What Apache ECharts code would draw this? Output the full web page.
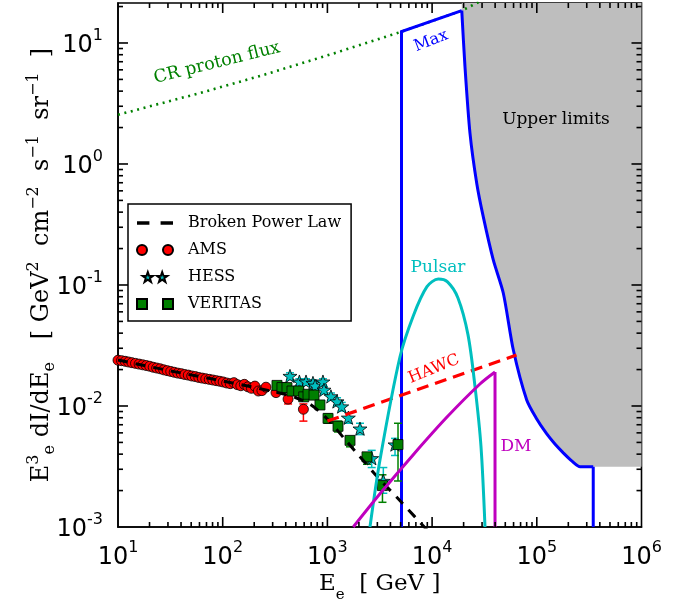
<!DOCTYPE html>
<html><head><meta charset="utf-8">
<script src="https://cdn.jsdelivr.net/npm/echarts@6/dist/echarts.min.js"></script>
<style>html,body{margin:0;padding:0;background:#fff}#c{width:681px;height:609px}</style>
</head><body><div id="c"></div>
<script>
// ---------- data ----------
const xMin = 10, xMax = 1e6, yMin = 1e-3, yMax = 21.4;
const xMajor = [10, 100, 1000, 10000, 100000, 1000000];
const xMinor = [20,30,40,50,60,70,80,90,200,300,400,500,600,700,800,900,2000,3000,4000,5000,6000,7000,8000,9000,
  20000,30000,40000,50000,60000,70000,80000,90000,200000,300000,400000,500000,600000,700000,800000,900000];
const yMajor = [0.001, 0.01, 0.1, 1, 10];
const yMinor = [0.002,0.003,0.004,0.005,0.006,0.007,0.008,0.009,0.02,0.03,0.04,0.05,0.06,0.07,0.08,0.09,
  0.2,0.3,0.4,0.5,0.6,0.7,0.8,0.9,2,3,4,5,6,7,8,9,20];

// CR proton flux (dotted green)
const crE = [10, 60, 230, 1100, 5100, 19200, 30000];
const crV = [2.55, 3.85, 5.35, 8.1, 12.4, 18.5, 22.5];

// Max / upper limit envelope
const maxLeftE = 5100, maxTopV = 12.4;
const upperE = [19200, 20600, 23000, 26700, 30800, 38400, 47900, 59700, 80100, 98200, 124000, 149000, 179000, 217000, 259000, 346000];
const upperV = [18.5, 6.4, 1.8, 0.69, 0.367, 0.161, 0.0855, 0.029, 0.0112, 0.0080, 0.0059, 0.00485, 0.0041, 0.0035, 0.00315, 0.00315];
const upperTopE = 29000;

// Pulsar
const pulsarE = [2550, 3177, 4930, 6607, 8933, 11460, 14030, 17660, 22030, 25700, 29310, 32010];
const pulsarV = [0.001, 0.00358, 0.0254, 0.0555, 0.0968, 0.112, 0.106, 0.0781, 0.0387, 0.01445, 0.00461, 0.001];

// DM
const dmE = [1767, 3177, 6577, 13870, 28640, 39900];
const dmV = [0.001, 0.00188, 0.00394, 0.0081, 0.0152, 0.0191];

// HAWC
const hawcE = [1000, 64000];
const hawcV = [0.0075, 0.0264];

// Broken power law
const bplE = [10, 30, 100, 300, 500, 700, 1000, 1500, 2000, 3000, 5000, 10000];
const bplV = [0.0240, 0.0197, 0.0161, 0.0132, 0.0117, 0.0102, 0.0078, 0.0052, 0.0039, 0.0026, 0.00163, 0.00085];

// AMS
const amsE = [10,10.8,11.7,12.6,13.6,14.7,15.9,17.2,18.6,20.1,21.7,23.4,25.3,27.3,29.5,31.9,34.4,37.2,40.2,43.4,46.9,50.6,54.7,59.1,63.8,68.9,74.4,80.4,86.8,93.8,101,109,118,128,138,149,161,174,188,203,219,237,259,323,421,590];
const amsV = [0.0239,0.0237,0.0234,0.0231,0.0228,0.0225,0.0222,0.0219,0.0216,0.0213,0.0209,0.0206,0.0203,0.0199,0.0196,0.0193,0.0190,0.0187,0.0185,0.0182,0.0180,0.0177,0.0175,0.0172,0.0170,0.0168,0.0166,0.0164,0.0162,0.0160,0.0158,0.0155,0.0153,0.0156,0.0150,0.0147,0.0151,0.0144,0.0140,0.0146,0.0133,0.0134,0.0143,0.0129,0.0114,0.0094];
const amsErrE = [259, 421, 590];
const amsErrLo = [0.0136, 0.0104, 0.0075];
const amsErrHi = [0.0150, 0.0124, 0.0104];

// HESS
const hessE = [439, 540, 625, 728, 763, 907, 928, 1081, 1236, 1371, 1585, 2048, 2649, 3421, 4425];
const hessV = [0.0177, 0.0159, 0.0159, 0.0155, 0.0147, 0.0159, 0.0136, 0.0120, 0.0109, 0.0099, 0.0080, 0.0065, 0.0037, 0.0024, 0.0048];
const hessLo = [0.0166, 0.0150, 0.0150, 0.0146, 0.0138, 0.0150, 0.0127, 0.0112, 0.0101, 0.0091, 0.0072, 0.0058, 0.0031, 0.0019, 0.0039];
const hessHi = [0.0188, 0.0168, 0.0168, 0.0164, 0.0156, 0.0168, 0.0145, 0.0128, 0.0117, 0.0107, 0.0088, 0.0072, 0.0043, 0.0031, 0.0054];

// VERITAS
const verE = [330, 368, 411, 459, 532, 594, 653, 745, 849, 1014, 1263, 1644, 2388, 3357, 4725];
const verV = [0.0148, 0.0142, 0.0142, 0.0133, 0.0133, 0.0119, 0.0125, 0.0123, 0.0102, 0.0079, 0.0068, 0.0052, 0.0038, 0.0022, 0.0048];
const verLo = [0.0140, 0.0134, 0.0134, 0.0125, 0.0125, 0.0111, 0.0117, 0.0115, 0.0094, 0.0072, 0.0061, 0.0046, 0.0033, 0.0016, 0.0024];
const verHi = [0.0156, 0.0150, 0.0150, 0.0141, 0.0141, 0.0127, 0.0133, 0.0131, 0.0110, 0.0086, 0.0075, 0.0056, 0.0041, 0.0027, 0.0072];

// ---------- chart ----------
const C_BLUE = '#0000ff', C_CYAN = '#00bfbf', C_MAG = '#bf00bf', C_RED = '#ff0000', C_GREEN = '#008000', C_GREY = '#bebebe';
const SERIF = '"DejaVu Serif", serif';
const SANS = '"DejaVu Sans", sans-serif';
const zip = (a, b) => a.map((v, i) => [v, b[i]]);
const zip3 = (a, b, c) => a.map((v, i) => [v, b[i], c[i]]);
const STAR = 'path://M0,-10 L2.35,-3.24 L9.51,-3.09 L3.8,1.24 L5.88,8.09 L0,4 L-5.88,8.09 L-3.8,1.24 L-9.51,-3.09 L-2.35,-3.24 Z';
const STAR2 = 'path://M0,-10 L2.35,-3.24 L9.51,-3.09 L3.8,1.24 L5.88,8.09 L0,4 L-5.88,8.09 L-3.8,1.24 L-9.51,-3.09 L-2.35,-3.24 Z M26,-10 L28.35,-3.24 L35.51,-3.09 L29.8,1.24 L31.88,8.09 L26,4 L20.12,8.09 L22.2,1.24 L16.49,-3.09 L23.65,-3.24 Z';
const CIRC2 = 'path://M-5,0 a5,5 0 1,0 10,0 a5,5 0 1,0 -10,0 Z M21,0 a5,5 0 1,0 10,0 a5,5 0 1,0 -10,0 Z';
const SQ2 = 'path://M-5,-5 L5,-5 L5,5 L-5,5 Z M21,-5 L31,-5 L31,5 L21,5 Z';
const DASH2 = 'path://M0,0 L10,0 L10,3 L0,3 Z M19,0 L29,0 L29,3 L19,3 Z';

const GRID = { left: 118, right: 39.5, top: 3, bottom: 82 };
const W = 681, H = 609;

const lineBlack = { color: '#000', width: 1.6 };
const lg = Math.log10;
const powLabel = v => {
  const e = lg(v);
  if (Math.abs(e - Math.round(e)) > 1e-6) return '';
  return '{b|10}{s|' + Math.round(e) + '}';
};

const xMain = {
  type: 'log', logBase: 10, min: xMin, max: xMax, position: 'bottom',
  axisLine: { show: true, onZero: false, lineStyle: lineBlack },
  axisTick: { show: false }, splitLine: { show: false }, minorTick: { show: false },
  axisLabel: {
    show: true, margin: 13, color: '#000', formatter: powLabel,
    rich: { b: { fontFamily: SANS, fontSize: 24, lineHeight: 30, color: '#000', verticalAlign: 'bottom' },
            s: { fontFamily: SANS, fontSize: 16, lineHeight: 30, color: '#000', verticalAlign: 'top' } }
  },
  name: '{m|E}{sub|e}{m|  [ GeV ]}', nameLocation: 'middle', nameGap: 46, nameMoveOverlap: false,
  nameTextStyle: { fontFamily: SERIF, fontSize: 23, color: '#000',
    rich: { m: { fontFamily: SERIF, fontSize: 23, lineHeight: 30, color: '#000', verticalAlign: 'top' },
            sub: { fontFamily: SERIF, fontSize: 15, lineHeight: 15, color: '#000', verticalAlign: 'bottom' } } }
};
const yMain = {
  type: 'log', logBase: 10, min: yMin, max: yMax, position: 'left',
  axisLine: { show: true, onZero: false, lineStyle: lineBlack },
  axisTick: { show: false }, splitLine: { show: false }, minorTick: { show: false },
  axisLabel: {
    show: true, margin: 15, color: '#000', formatter: powLabel,
    rich: { b: { fontFamily: SANS, fontSize: 24, lineHeight: 30, color: '#000', verticalAlign: 'bottom' },
            s: { fontFamily: SANS, fontSize: 16, lineHeight: 30, color: '#000', verticalAlign: 'top' } }
  },
  name: '{m|E}{sup|3}{sub|e}{m| dI/dE}{sub|e}{m|   [ GeV}{sup|2}{m|  cm}{sup|−2}{m|  s}{sup|−1}{m|  sr}{sup|−1}{m|  ]}',
  nameLocation: 'middle', nameRotate: 90, nameGap: 60, nameMoveOverlap: false,
  nameTextStyle: { fontFamily: SERIF, fontSize: 24, color: '#000',
    rich: { m: { fontFamily: SERIF, fontSize: 24, lineHeight: 32, color: '#000' },
            sup: { fontFamily: SERIF, fontSize: 16, lineHeight: 16, color: '#000', verticalAlign: 'top' },
            sub: { fontFamily: SERIF, fontSize: 16, lineHeight: 16, color: '#000', verticalAlign: 'bottom' } } }
};

function errRender(color) {
  return function (params, api) {
    const x = api.value(0), lo = api.value(1), hi = api.value(2);
    const p1 = api.coord([x, hi]), p2 = api.coord([x, lo]);
    const w = 4;
    const st = { stroke: color, lineWidth: 1.5 };
    return { type: 'group', children: [
      { type: 'line', shape: { x1: p1[0], y1: p1[1], x2: p2[0], y2: p2[1] }, style: st },
      { type: 'line', shape: { x1: p1[0] - w, y1: p1[1], x2: p1[0] + w, y2: p1[1] }, style: st },
      { type: 'line', shape: { x1: p2[0] - w, y1: p2[1], x2: p2[0] + w, y2: p2[1] }, style: st }
    ] };
  };
}

const lastUE = upperE[upperE.length - 1], lastUV = upperV[upperV.length - 1];
const maxEdgeLeft = [[maxLeftE, yMin], [maxLeftE, maxTopV], [upperE[0], upperV[0]]];
const maxEdgeRight = [[lastUE, lastUV], [lastUE, yMin]];
const upperCurve = zip(upperE, upperV);
const upperArea = upperCurve.concat([[xMax, lastUV]]);

const textGraphics = [
  { type: 'text', x: 217, y: 63, rotation: 14 * Math.PI / 180, z: 100,
    style: { text: 'CR proton flux', fill: C_GREEN, font: '17.5px ' + SERIF, align: 'center', verticalAlign: 'middle' } },
  { type: 'text', x: 431, y: 41, rotation: 21 * Math.PI / 180, z: 100,
    style: { text: 'Max', fill: C_BLUE, font: '16px ' + SERIF, align: 'center', verticalAlign: 'middle' } },
  { type: 'text', x: 556, y: 120, z: 100,
    style: { text: 'Upper limits', fill: '#000', font: '17px ' + SERIF, align: 'center', verticalAlign: 'middle' } },
  { type: 'text', x: 438, y: 268, z: 100,
    style: { text: 'Pulsar', fill: C_CYAN, font: '17px ' + SERIF, align: 'center', verticalAlign: 'middle' } },
  { type: 'text', x: 434, y: 369, rotation: 22 * Math.PI / 180, z: 100,
    style: { text: 'HAWC', fill: C_RED, font: '16px ' + SERIF, align: 'center', verticalAlign: 'middle' } },
  { type: 'text', x: 516, y: 447, z: 100,
    style: { text: 'DM', fill: C_MAG, font: '17px ' + SERIF, align: 'center', verticalAlign: 'middle' } }
];

const option = {
  animation: false,
  backgroundColor: '#fff',
  grid: { left: GRID.left, right: GRID.right, top: GRID.top, bottom: GRID.bottom, containLabel: false, outerBoundsMode: 'none',
          show: true, borderColor: '#000', borderWidth: 1.6, backgroundColor: 'transparent' },
  xAxis: [xMain],
  yAxis: [yMain],
  legend: {
    show: true, orient: 'vertical', left: 128, top: 204,
    padding: [10, 10, 8, 8], itemGap: 9, itemWidth: 36, itemHeight: 10,
    backgroundColor: '#fff', borderColor: '#000', borderWidth: 1.5, borderRadius: 0,
    selectedMode: false,
    textStyle: { fontFamily: SERIF, fontSize: 16, color: '#000', lineHeight: 18, padding: [0, 0, 0, 10] },
    data: [
      { name: 'Broken Power Law', icon: DASH2, itemStyle: { color: '#000', borderWidth: 0 } },
      { name: 'AMS', icon: CIRC2 },
      { name: 'HESS', icon: STAR2 },
      { name: 'VERITAS', icon: SQ2 }
    ]
  },
  graphic: textGraphics,
  series: [
    { name: 'UpperFill', type: 'line', data: upperArea, symbol: 'none', clip: true, z: 1, smooth: 0.25, silent: true,
      lineStyle: { width: 0, color: C_GREY }, areaStyle: { origin: 'end', color: C_GREY, opacity: 1 } },
    { name: 'CR proton flux', type: 'line', data: zip(crE, crV), symbol: 'none', clip: true, z: 3,
      lineStyle: { color: C_GREEN, width: 2.6, type: [2, 4.6], cap: 'butt' } },
    { name: 'MaxL', type: 'line', data: maxEdgeLeft, symbol: 'none', clip: true, z: 3,
      lineStyle: { color: C_BLUE, width: 3, join: 'miter' } },
    { name: 'MaxC', type: 'line', data: upperCurve, symbol: 'none', clip: true, z: 3, smooth: 0.25,
      lineStyle: { color: C_BLUE, width: 3 } },
    { name: 'MaxR', type: 'line', data: maxEdgeRight, symbol: 'none', clip: true, z: 3,
      lineStyle: { color: C_BLUE, width: 3 } },
    { name: 'AMSerr', type: 'custom', coordinateSystem: 'cartesian2d', silent: true, z: 4,
      encode: { x: 0, y: [1, 2] }, data: zip3(amsErrE, amsErrLo, amsErrHi), renderItem: errRender(C_RED) },
    { name: 'AMS', type: 'scatter', data: zip(amsE, amsV), symbol: 'circle', symbolSize: 10, z: 5,
      itemStyle: { color: C_RED, borderColor: '#000', borderWidth: 0.8, opacity: 1 } },
    { name: 'HESSerr', type: 'custom', coordinateSystem: 'cartesian2d', silent: true, z: 4,
      encode: { x: 0, y: [1, 2] }, data: zip3(hessE, hessLo, hessHi), renderItem: errRender(C_CYAN) },
    { name: 'HESS', type: 'scatter', data: zip(hessE, hessV), symbol: STAR, symbolSize: 14, symbolKeepAspect: true, z: 5,
      itemStyle: { color: C_CYAN, borderColor: '#000', borderWidth: 0.8, opacity: 1 } },
    { name: 'VERITASerr', type: 'custom', coordinateSystem: 'cartesian2d', silent: true, z: 4,
      encode: { x: 0, y: [1, 2] }, data: zip3(verE, verLo, verHi), renderItem: errRender(C_GREEN) },
    { name: 'VERITAS', type: 'scatter', data: zip(verE, verV), symbol: 'rect', symbolSize: 10, z: 5,
      itemStyle: { color: C_GREEN, borderColor: '#000', borderWidth: 0.8, opacity: 1 } },
    { name: 'Broken Power Law', type: 'line', data: zip(bplE, bplV), symbol: 'none', clip: true, z: 6, smooth: 0.3,
      itemStyle: { color: '#000' },
      lineStyle: { color: '#000', width: 3, type: [10, 8], cap: 'butt' } },
    { name: 'HAWC', type: 'line', data: zip(hawcE, hawcV), symbol: 'none', clip: true, z: 6,
      lineStyle: { color: C_RED, width: 3.2, type: [12, 7], cap: 'butt' } },
    { name: 'Pulsar', type: 'line', data: zip(pulsarE, pulsarV), symbol: 'none', clip: true, z: 6, smooth: 0.3,
      lineStyle: { color: C_CYAN, width: 3 } },
    { name: 'DM', type: 'line', data: zip(dmE, dmV), symbol: 'none', clip: true, z: 6, smooth: 0.3,
      lineStyle: { color: C_MAG, width: 3 } },
    { name: 'DMdrop', type: 'line', data: [[dmE[dmE.length - 1], dmV[dmV.length - 1]], [dmE[dmE.length - 1], yMin]], symbol: 'none', clip: true, z: 6,
      lineStyle: { color: C_MAG, width: 3 } }
  ]
};
const chart = echarts.init(document.getElementById('c'), null, { renderer: 'canvas' });
chart.setOption(option);

// ---- inside tick marks on all four sides, placed through the axes' scales ----
const gLeft = GRID.left, gRight = W - GRID.right, gTop = GRID.top, gBottom = H - GRID.bottom;
const tickEls = [];
function addLine(x1, y1, x2, y2) {
  tickEls.push({ type: 'line', z: 50, silent: true,
    shape: { x1: x1, y1: y1, x2: x2, y2: y2 }, style: { stroke: '#000', lineWidth: 1.6 } });
}
const midY = 1, midX = 1000;
xMajor.concat(xMinor).forEach(v => {
  if (!(v > xMin && v < xMax)) return;
  const len = xMajor.indexOf(v) >= 0 ? 10 : 5;
  const p = chart.convertToPixel({ gridIndex: 0 }, [v, midY]);
  if (!p || !isFinite(p[0])) return;
  addLine(p[0], gBottom, p[0], gBottom - len);
  addLine(p[0], gTop, p[0], gTop + len);
});
yMajor.concat(yMinor).forEach(v => {
  if (!(v > yMin && v < yMax)) return;
  const len = yMajor.indexOf(v) >= 0 ? 10 : 5;
  const p = chart.convertToPixel({ gridIndex: 0 }, [midX, v]);
  if (!p || !isFinite(p[1])) return;
  addLine(gLeft, p[1], gLeft + len, p[1]);
  addLine(gRight, p[1], gRight - len, p[1]);
});
// white notch above the CR line left of the grey region
const gapA = chart.convertToPixel({ gridIndex: 0 }, [upperE[0], upperV[0]]);
const gapB = chart.convertToPixel({ gridIndex: 0 }, [upperTopE, midY]);
const extra = [];
if (gapA && gapB && isFinite(gapA[0]) && isFinite(gapB[0])) {
  extra.push({ type: 'polygon', z: 2, silent: true,
    shape: { points: [[gapA[0], gapA[1]], [gapB[0], gTop], [gapA[0], gTop]] }, style: { fill: '#fff' } });
}
chart.setOption({ graphic: textGraphics.concat(tickEls) });
</script></body></html>
